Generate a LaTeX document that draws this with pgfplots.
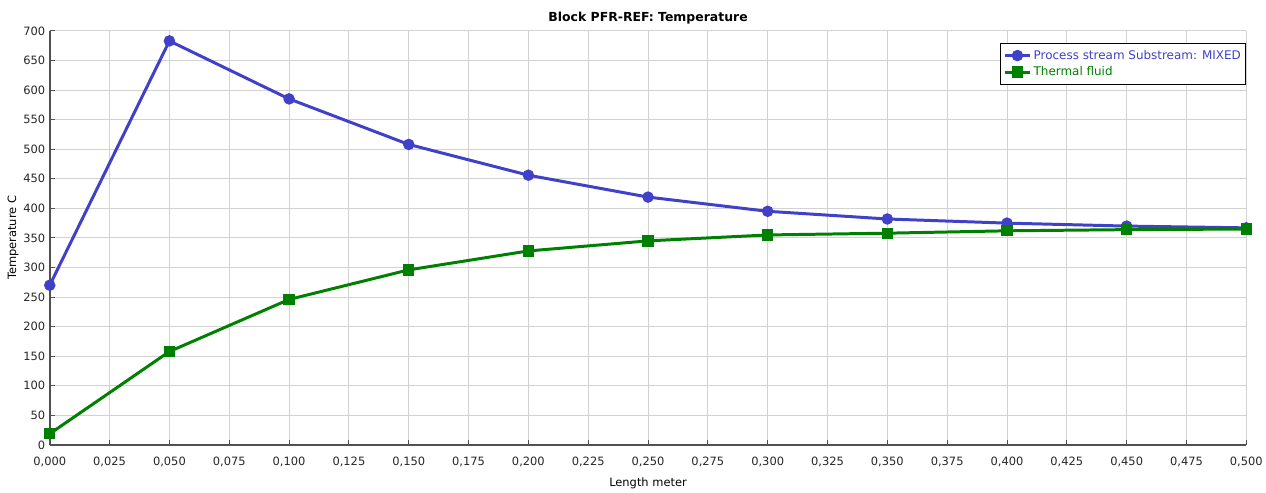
\documentclass[border=0pt]{standalone}
\usepackage{fontspec}
\setmainfont{DejaVu Sans}
\usepackage{pgfplots}
\pgfplotsset{compat=1.18}
\definecolor{pblue}{RGB}{64,64,200}
\definecolor{pgreen}{RGB}{0,128,0}
\definecolor{gridgray}{RGB}{210,210,210}
\definecolor{axgray}{RGB}{80,80,80}
\begin{document}
\begin{tikzpicture}
\begin{axis}[
  scale only axis,
  width=1202pt, height=416pt,
  xmin=0, xmax=0.5, ymin=0, ymax=700,
  axis lines*=left,
  axis line style={axgray, line width=1.8pt},
  xtick={0,0.025,...,0.5001},
  ytick={0,50,...,700},
  grid=major,
  major grid style={gridgray, line width=1pt},
  tick style={axgray, line width=1pt},
  major tick length=5pt,
  tick label style={font=\fontsize{11.5}{13}\selectfont, text=black!85},
  x tick label style={yshift=-9pt, /pgf/number format/.cd, fixed, fixed zerofill, precision=3, use comma, assume math mode=true},
  y tick label style={xshift=-1pt, /pgf/number format/.cd, assume math mode=true},
  scaled x ticks=false,
  xlabel={Length meter},
  ylabel={Temperature C},
  label style={font=\fontsize{11.5}{13}\selectfont},
  xlabel style={yshift=-4pt},
  ylabel style={yshift=-2pt},
  title={\textbf{Block PFR-REF: Temperature}},
  title style={font=\fontsize{12.5}{14}\selectfont, yshift=-3pt},
  legend style={at={(1,0.971)}, anchor=north east, draw=black, line width=0.9pt,
    font=\fontsize{12}{15}\selectfont, inner xsep=3pt, inner ysep=5pt, row sep=2pt},
  legend image code/.code={
    \draw[mark repeat=2,mark phase=2] plot coordinates {(0cm,0cm) (0.45cm,0cm) (0.9cm,0cm)};},
  legend cell align=left,
  clip=false,
]
\addplot[pblue, line width=3pt, mark=*, mark size=4.2pt] coordinates {
 (0,270) (0.05,683) (0.1,585) (0.15,508) (0.2,456) (0.25,419) (0.3,395) (0.35,382) (0.4,375) (0.45,370) (0.5,367)};
\addlegendentry{\textcolor{pblue}{Process stream Substream: MIXED}}
\addplot[pgreen, line width=3pt, mark=square*, mark size=4.2pt] coordinates {
 (0,19) (0.05,158) (0.1,246) (0.15,296) (0.2,328) (0.25,345) (0.3,355) (0.35,358) (0.4,362) (0.45,364) (0.5,365)};
\addlegendentry{\textcolor{pgreen}{Thermal fluid}}
\path (rel axis cs:0,0) ++(-50pt,-42pt) coordinate (bl);
\path (rel axis cs:1,1) ++(14pt,31pt) coordinate (tr);
\end{axis}
\useasboundingbox (bl) rectangle (tr);
\end{tikzpicture}
\end{document}
